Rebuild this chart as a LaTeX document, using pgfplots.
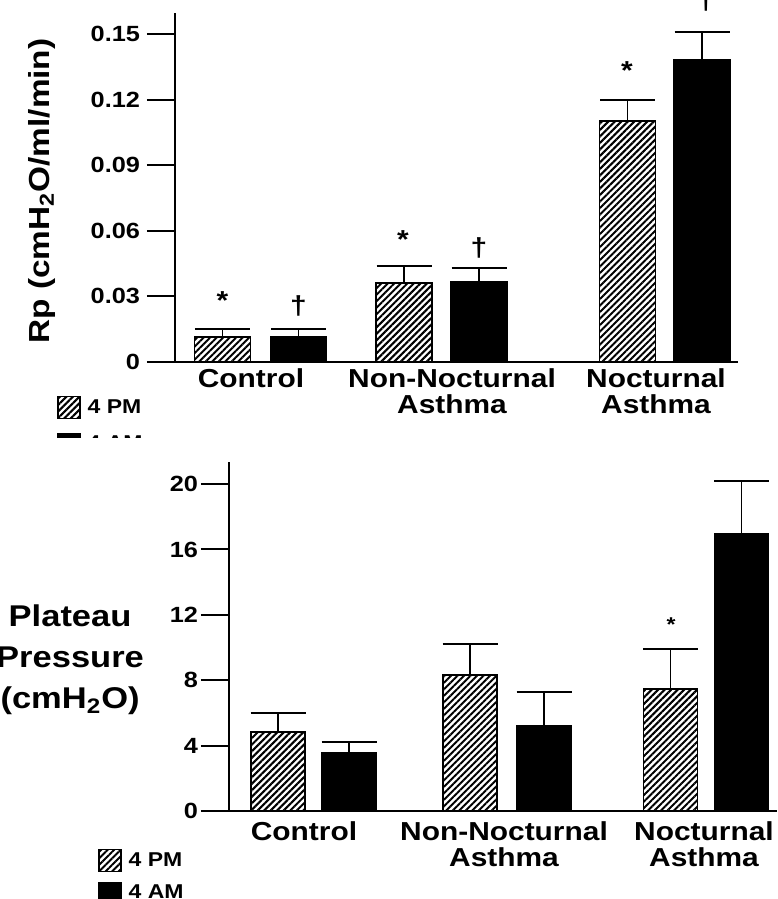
\documentclass[border=0pt]{standalone}
\usepackage{fontspec}
\setmainfont{Liberation Sans}[FakeStretch=1.15]
\usepackage{pgfplots}
\pgfplotsset{compat=1.18}
\usepackage{pgfplotstable}
\usetikzlibrary{patterns.meta}

% x positions are bar centres on a common horizontal scale
\pgfplotstableread{
x      y       e
222.5  0.0114  0.0037
404    0.0361  0.0078
627.5  0.1102  0.0096
}\rpPM
\pgfplotstableread{
x      y       e
298.5  0.0114  0.0037
479    0.0366  0.0064
702    0.1381  0.0129
}\rpAM
\pgfplotstableread{
x      y      e
278    4.83   1.16
470    8.32   1.88
670.5  7.46   2.45
}\ppPM
\pgfplotstableread{
x      y      e
349    3.55   0.67
544    5.20   2.08
741.5  16.94  3.26
}\ppAM

\pgfplotsset{
  panel/.style={
    scale only axis, anchor=south west,
    axis lines*=left, axis line style={line width=1pt},
    ybar, bar shift=0pt,
    tick align=outside, major tick length=14pt,
    ytick style={line width=1pt, black},
    xtick style={draw=none},
    clip=false,
    /pgf/number format/assume math mode=true,
    yticklabel style={font=\fontsize{11}{13}\selectfont\bfseries},
    xticklabel style={font=\fontsize{13}{13}\selectfont\bfseries, align=center, yshift=14pt},
    legend cell align=left,
    legend image code/.code={\draw[##1, line width=0.6pt] (0pt,-5.5pt) rectangle (11pt,5.5pt);},
  },
  hatched/.style={draw=black, line width=0.8pt,
    pattern={Lines[angle=45,distance=2.3pt,line width=1pt]}, pattern color=black},
  solidbar/.style={draw=black, fill=black, line width=0.8pt},
  errs/.style={
    error bars/y dir=plus, error bars/y explicit,
    error bars/error mark=-,
    error bars/error bar style={line width=0.9pt, black, solid},
    error bars/error mark options={rotate=90, line width=0.9pt, black, mark size=13.75pt}},
}

\begin{document}
\begin{tikzpicture}
\useasboundingbox (0,0) rectangle (388.5pt,449.5pt);
\clip (0,0) rectangle (388.5pt,449.5pt);

% upper panel: airway resistance
\begin{scope}
\clip (0,230.5pt) rectangle (388.5pt,449.5pt);
\begin{axis}[panel,
  at={(87.5pt,268.5pt)}, width=281.5pt, height=174.5pt,
  xmin=175, xmax=738, ymin=0, ymax=0.1596,
  bar width=56,
  ytick={0,0.03,0.06,0.09,0.12,0.15},
  yticklabels={0,0.03,0.06,0.09,0.12,0.15},
  xtick={251,452,656},
  xticklabels={Control,{Non-Nocturnal\\Asthma},{Nocturnal\\Asthma}},
  ylabel={Rp (cmH\textsubscript{2}O/ml/min)},
  ylabel style={at={(axis description cs:-0.236,0.49)}, anchor=center,
    font=\fontsize{14.5}{16}\selectfont\bfseries},
  legend style={at={(axis description cs:-0.2096,-0.0946)}, anchor=north west,
    draw=none, fill=none, inner sep=0pt, row sep=6pt,
    /tikz/every odd column/.append style={column sep=1.5pt},
    font=\fontsize{10}{12}\selectfont\bfseries},
]
\addplot[hatched, errs] table[x=x, y=y, y error=e] {\rpPM};
\addlegendentry{4 PM}
\addplot[solidbar, errs] table[x=x, y=y, y error=e] {\rpAM};
\addlegendentry{4 AM}
\begin{scope}[every node/.style={font=\fontsize{13}{13}\selectfont\bfseries}]
\node[anchor=base] at (axis cs:222.5,0.0242) {*};
\node[anchor=base] at (axis cs:403,0.0521) {*};
\node[anchor=base] at (axis cs:627,0.1294) {*};
\node[anchor=center] at (axis cs:298.5,0.0256) {†};
\node[anchor=center] at (axis cs:479,0.0521) {†};
\node[anchor=center] at (axis cs:706,0.1652) {†};
\end{scope}
\end{axis}
\end{scope}

% lower panel: plateau pressure
\begin{axis}[panel,
  at={(114.5pt,44pt)}, width=274pt, height=174.5pt,
  xmin=229, xmax=777, ymin=0, ymax=21.35,
  bar width=54,
  ytick={0,4,8,12,16,20},
  yticklabel style={xshift=2pt},
  xtick={304,504,704},
  xticklabels={Control,{Non-Nocturnal\\Asthma},{Nocturnal\\Asthma}},
  xticklabel style={yshift=-2pt},
  ylabel={Plateau\\Pressure\\(cmH\textsubscript{2}O)},
  ylabel style={rotate=-90, at={(axis description cs:-0.290,0.433)}, anchor=center,
    align=center, font=\fontsize{15}{20.5}\selectfont\bfseries},
  legend style={at={(axis description cs:-0.239,-0.106)}, anchor=north west,
    draw=none, fill=none, inner sep=0pt, row sep=4pt,
    /tikz/every odd column/.append style={column sep=1.5pt},
    font=\fontsize{10}{12}\selectfont\bfseries},
]
\addplot[hatched, errs] table[x=x, y=y, y error=e] {\ppPM};
\addlegendentry{4 PM}
\addplot[solidbar, errs] table[x=x, y=y, y error=e] {\ppAM};
\addlegendentry{4 AM}
\node[anchor=base, font=\fontsize{10}{10}\selectfont\bfseries] at (axis cs:671,10.97) {*};
\end{axis}
\end{tikzpicture}
\end{document}
